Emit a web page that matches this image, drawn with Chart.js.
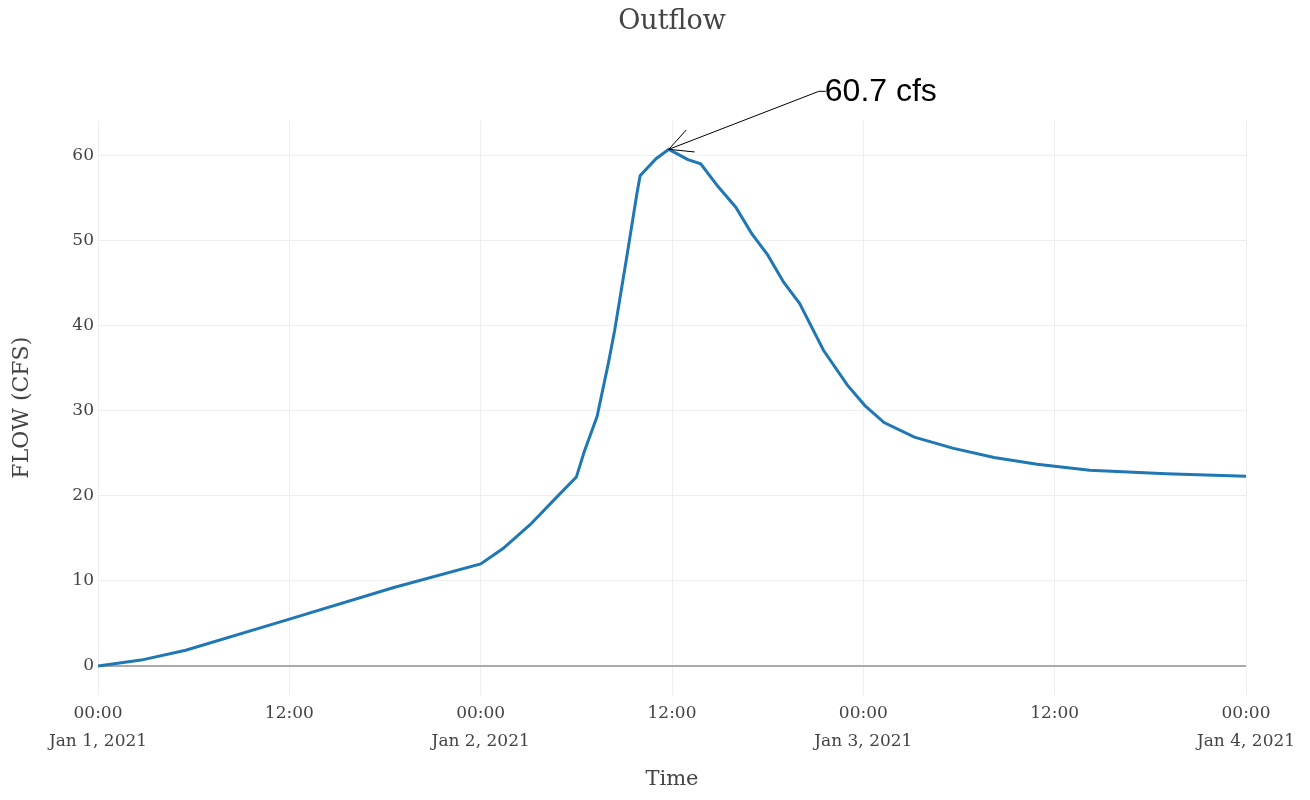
<!DOCTYPE html>
<html>
<head>
<meta charset="utf-8">
<title>Outflow</title>
<script src="https://cdn.jsdelivr.net/npm/chart.js@4"></script>
<style>
  html, body { margin: 0; padding: 0; background: #fff; }
  #wrap { width: 1310px; height: 800px; }
</style>
</head>
<body>
<div id="wrap"><canvas id="outflow" width="1310" height="800"></canvas></div>
<script>
// hours since Jan 1, 2021 00:00
const hours = [0, 2.7, 5.5, 11.8, 18.5, 24.0, 25.4, 27.1, 28.8, 30.0, 30.5, 31.3, 32.0, 32.4, 33.2, 33.8,
  34.0, 35.0, 35.8, 37.0, 37.8, 38.9, 40.0, 41.0, 42.0, 43.0, 44.0, 45.5, 47.0, 48.1, 49.3, 51.2,
  53.6, 56.2, 58.9, 62.2, 67.0, 72.0];
// outflow, cfs
const flowCfs = [0, 0.7, 1.85, 5.4, 9.2, 12.0, 13.8, 16.6, 19.9, 22.2, 25.2, 29.3, 35.5, 39.4, 48.5, 55.5,
  57.6, 59.6, 60.7, 59.5, 59.0, 56.3, 53.9, 50.8, 48.3, 45.1, 42.6, 37.1, 33.0, 30.6, 28.6, 26.9,
  25.6, 24.5, 23.7, 23.0, 22.6, 22.3];

const xTickHours = [0, 12, 24, 36, 48, 60, 72];
const xTickText = [['00:00', 'Jan 1, 2021'], ['12:00'], ['00:00', 'Jan 2, 2021'], ['12:00'],
  ['00:00', 'Jan 3, 2021'], ['12:00'], ['00:00', 'Jan 4, 2021']];
const yTickValues = [0, 10, 20, 30, 40, 50, 60];

const SERIF = '"DejaVu Serif", "Liberation Serif", serif';
const TEXT = '#444';

// peak callout, drawn from the data point
const peakCallout = {
  id: 'peakCallout',
  afterDatasetsDraw(chart) {
    const { ctx, scales } = chart;
    let iMax = 0;
    flowCfs.forEach((v, i) => { if (v > flowCfs[iMax]) iMax = i; });
    const px = scales.x.getPixelForValue(hours[iMax]);
    const py = scales.y.getPixelForValue(flowCfs[iMax]);
    const tx = px + 153, ty = py - 58;

    ctx.save();
    ctx.strokeStyle = '#000';
    ctx.lineWidth = 1;
    ctx.beginPath();
    ctx.moveTo(tx + 4, ty);
    ctx.lineTo(tx - 3, ty);
    ctx.lineTo(px, py);
    const ang = Math.atan2(ty - py, tx - 3 - px);
    const len = 26, spread = 0.47;
    ctx.moveTo(px + len * Math.cos(ang - spread), py + len * Math.sin(ang - spread));
    ctx.lineTo(px, py);
    ctx.lineTo(px + len * Math.cos(ang + spread), py + len * Math.sin(ang + spread));
    ctx.stroke();

    ctx.fillStyle = '#000';
    ctx.font = '32px "Liberation Sans", Arial, sans-serif';
    ctx.textAlign = 'left';
    ctx.textBaseline = 'middle';
    ctx.fillText(flowCfs[iMax].toFixed(1) + ' cfs', tx + 3, ty + 1);
    ctx.restore();
  }
};

new Chart(document.getElementById('outflow'), {
  type: 'line',
  data: {
    datasets: [{
      label: 'Outflow',
      data: hours.map((h, i) => ({ x: h, y: flowCfs[i] })),
      borderColor: '#1f77b4',
      borderWidth: 3,
      pointRadius: 0,
      tension: 0,
      fill: false,
    }],
  },
  options: {
    responsive: false,
    animation: false,
    devicePixelRatio: 1,
    layout: { padding: { left: 0, right: 64, top: 0, bottom: 0 } },
    plugins: {
      legend: { display: false },
      tooltip: { enabled: false },
      title: {
        display: true,
        text: 'Outflow',
        fullSize: false,
        color: TEXT,
        font: { family: SERIF, size: 27, weight: 'normal' },
        padding: { top: 6, bottom: 82 },
      },
    },
    scales: {
      x: {
        type: 'linear',
        min: 0,
        max: 72,
        afterFit: (s) => { s.height = 105; },
        afterBuildTicks: (s) => { s.ticks = xTickHours.map((v) => ({ value: v })); },
        border: { display: false },
        grid: { color: '#eeeeee', lineWidth: 1, drawTicks: false },
        ticks: {
          color: TEXT,
          padding: 5,
          maxRotation: 0,
          autoSkip: false,
          font: { family: SERIF, size: 17, lineHeight: 1.65 },
          callback: (v) => {
            const i = xTickHours.indexOf(v);
            return i >= 0 ? xTickText[i] : '';
          },
        },
        title: {
          display: true,
          text: 'Time',
          color: TEXT,
          font: { family: SERIF, size: 21 },
          padding: { top: 0, bottom: 8 },
        },
      },
      y: {
        type: 'linear',
        min: -3.4,
        max: 64.1,
        afterFit: (s) => { s.width = 98; },
        afterBuildTicks: (s) => { s.ticks = yTickValues.map((v) => ({ value: v })); },
        border: { display: false },
        grid: {
          drawTicks: false,
          color: (c) => (c.tick && c.tick.value === 0 ? '#aaaaaa' : '#eeeeee'),
          lineWidth: (c) => (c.tick && c.tick.value === 0 ? 2 : 1),
        },
        ticks: {
          color: TEXT,
          padding: 4,
          font: { family: SERIF, size: 17 },
        },
        title: {
          display: true,
          text: 'FLOW (CFS)',
          color: TEXT,
          font: { family: SERIF, size: 22 },
          padding: { top: 9, bottom: 0 },
        },
      },
    },
  },
  plugins: [peakCallout],
});
</script>
</body>
</html>
